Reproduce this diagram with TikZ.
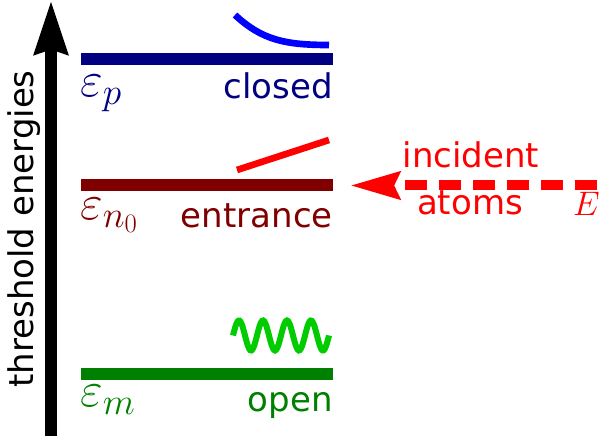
\RequirePackage{fix-cm}
\documentclass[tikz,border=0pt]{standalone}
\usepackage{amsmath,amssymb}
\usepackage{fontspec}
\setmainfont{DejaVu Sans}
\usepackage{tikz}
\usetikzlibrary{arrows.meta}
\usepackage{xcolor}
\DeclareMathSizes{25.5}{25.5}{18}{14}
\DeclareMathSizes{37}{37}{28}{20}

\begin{document}
\begin{tikzpicture}[x=0.75pt,y=-0.75pt,font=\fontsize{25.5}{30}\selectfont,inner sep=0pt]
\useasboundingbox (0,0) rectangle (601,438);
\coordinate (axbot) at (51,436);
\coordinate (axtop) at (51,0);
\draw[line width=9pt,-{Stealth[length=40pt,width=24pt,inset=3pt]}] (axbot)--(axtop);
\node[rotate=90,anchor=base] (axlab) at (33,229){threshold energies};
\foreach \y/\c/\nm/\lab/\sub/\by/\ey in {59.5/blue!50!black/p/closed/p/39/37.5, 185.5/red!50!black/n/entrance/n_0/42.5/34.5, 374/green!50!black/m/open/m/38/33}{
  \draw[\c,line width=9pt] (81,\y)--(333,\y);
  \node[\c,anchor=base east] (lab\nm) at (333,{\y+\by}){\lab};
  \node[\c,anchor=base west,font=\fontsize{37}{40}\selectfont] (eps\nm) at (80,{\y+\ey}){$\varepsilon_{\sub}$};
}
\draw[blue,line width=5pt] (235,15) .. controls (262,40) and (285,45) .. (329,45);
\draw[red,line width=5pt] (237,170)--(329,140);
\draw[green!80!black,line width=4.5pt] plot[domain=233:329,samples=90] (\x,{335.5-15*sin(15*(\x-233))});
\coordinate (atomsfrom) at (597,185.5);
\coordinate (atomsto) at (350,185.5);
\draw[red,line width=7.5pt,dash pattern=on 16.5pt off 9pt,-{Stealth[length=37pt,width=20pt,inset=4pt]}] (atomsfrom)--(atomsto);
\node[red,anchor=base] (incid) at (471,168){incident};
\node[red,anchor=base] (atoms) at (470,215){atoms};
\node[red,anchor=base east] (energ) at (600,216){$E$};
\end{tikzpicture}
\end{document}
